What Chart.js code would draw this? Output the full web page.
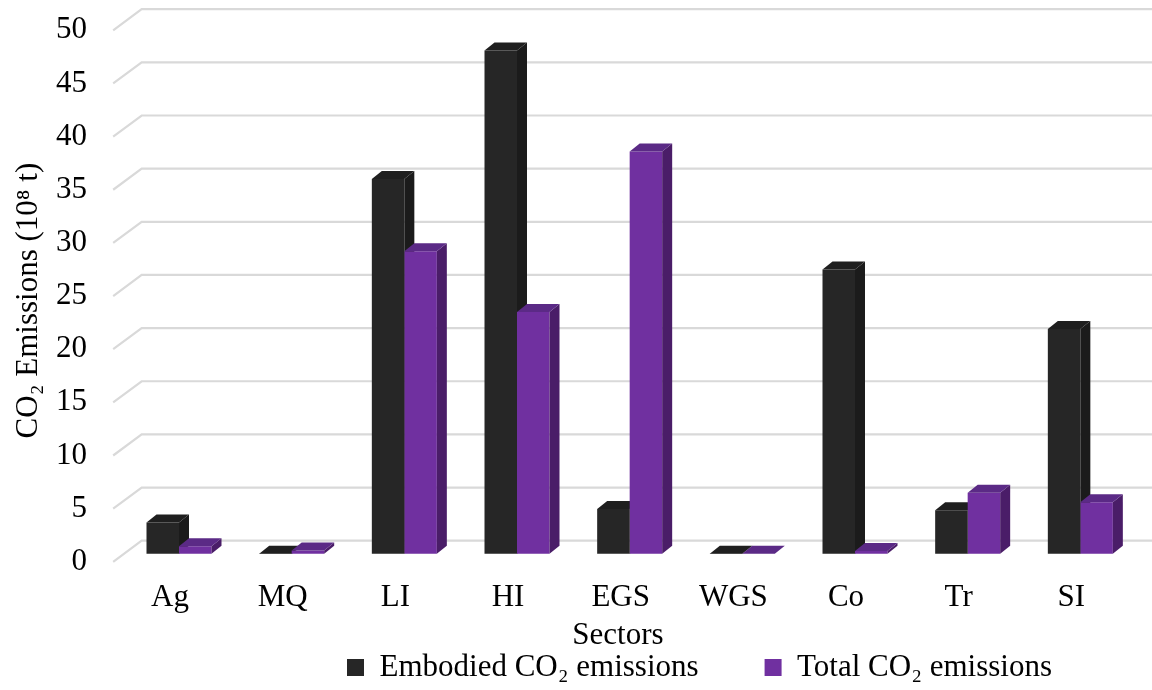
<!DOCTYPE html>
<html><head><meta charset="utf-8">
<script src="https://cdn.jsdelivr.net/npm/chart.js@4.4.1/dist/chart.umd.min.js"></script>
<style>html,body{margin:0;padding:0;background:#fff;} canvas{display:block;}</style>
</head><body>
<canvas id="c" width="1152" height="690"></canvas>
<script>
// ---- data ----
const sectors = ['Ag', 'MQ', 'LI', 'HI', 'EGS', 'WGS', 'Co', 'Tr', 'SI'];
const embodied = [3.0, 0.02, 35.3, 47.4, 4.25, 0.02, 26.8, 4.15, 21.2];
const total = [0.75, 0.35, 28.5, 22.8, 37.9, 0.05, 0.3, 5.8, 4.9];
const seriesNames = ['Embodied CO₂ emissions', 'Total CO₂ emissions'];
const yMin = 0, yMax = 50, yStep = 5;
const xTitle = 'Sectors';
const yTitle = 'CO₂ Emissions (10⁸ t)';

// ---- styles ----
const FONT = "'Liberation Serif', 'Times New Roman', serif";
const fronts = ['#262626', '#7030a0'];
const sides = ['#1b1b1b', '#4a1d68'];
const tops = ['#1f1f1f', '#5b2a86'];
const BAR_DX = 10, BAR_DY = 8;
const GRID_FRONT = {dx: -9.5, dy: 7.5}, GRID_BACK = {dx: 19, dy: -13.6};
const LEGEND_PAD = 66;
const CLEAR = 'rgba(0,0,0,0)';

function drawFaces(chart, i) {
  const ctx = chart.ctx;
  const meta = chart.getDatasetMeta(i);
  if (meta.hidden) return;
  meta.data.forEach(bar => {
    const p = bar.getProps(['x', 'y', 'base', 'width'], true);
    const l = p.x - p.width / 2, r = p.x + p.width / 2;
    const t = Math.min(p.y, p.base), b = Math.max(p.y, p.base);
    ctx.save();
    ctx.fillStyle = sides[i];
    ctx.beginPath();
    ctx.moveTo(r, t); ctx.lineTo(r + BAR_DX, t - BAR_DY); ctx.lineTo(r + BAR_DX, b - BAR_DY); ctx.lineTo(r, b);
    ctx.closePath(); ctx.fill();
    ctx.fillStyle = tops[i];
    ctx.beginPath();
    ctx.moveTo(l, t); ctx.lineTo(l + BAR_DX, t - BAR_DY); ctx.lineTo(r + BAR_DX, t - BAR_DY); ctx.lineTo(r, t);
    ctx.closePath(); ctx.fill();
    ctx.restore();
  });
}

function shiftTitle(scale, dx, dy) {
  if (!scale || scale._titleShifted) return;
  const orig = scale.drawTitle;
  scale.drawTitle = function () {
    const s = {left: this.left, right: this.right, top: this.top, bottom: this.bottom};
    this.left += dx; this.right += dx; this.top += dy; this.bottom += dy;
    orig.apply(this, arguments);
    Object.assign(this, s);
  };
  scale._titleShifted = true;
}

const threeD = {
  id: 'threeD',
  beforeLayout(chart) {
    const lg = chart.legend;
    if (lg && !lg._fitWrapped) {
      const f = lg.fit;
      lg.fit = function () { f.apply(this, arguments); this.height = 36; };
      lg._fitWrapped = true;
    }
  },
  afterLayout(chart) {
    const lg = chart.legend;
    if (lg) { lg.left = 347 - LEGEND_PAD; lg.top = 667.5 - 15.5 - LEGEND_PAD; }
    shiftTitle(chart.scales.x, -11.7, 4);
    shiftTitle(chart.scales.y, 0, 12);
  },
  beforeDatasetsDraw(chart) {
    const ctx = chart.ctx, ca = chart.chartArea, ys = chart.scales.y;
    ctx.save();
    ctx.strokeStyle = '#d9d9d9';
    ctx.lineWidth = 2.2;
    ys.ticks.forEach(tk => {
      const y = ys.getPixelForValue(tk.value);
      ctx.beginPath();
      ctx.moveTo(ca.left + GRID_FRONT.dx, y + GRID_FRONT.dy);
      ctx.lineTo(ca.left + GRID_BACK.dx, y + GRID_BACK.dy);
      ctx.lineTo(chart.width, y + GRID_BACK.dy);
      ctx.stroke();
    });
    ctx.restore();
    drawFaces(chart, 0);
  },
  afterDatasetsDraw(chart) {
    drawFaces(chart, 1);
  }
};

Chart.defaults.font.family = FONT;
Chart.defaults.font.size = 31;
Chart.defaults.color = '#000';

new Chart(document.getElementById('c'), {
  type: 'bar',
  data: {
    labels: sectors,
    datasets: [
      {label: seriesNames[0], data: embodied, backgroundColor: fronts[0], borderWidth: 0},
      {label: seriesNames[1], data: total, backgroundColor: fronts[1], borderWidth: 0}
    ]
  },
  options: {
    responsive: false,
    animation: false,
    layout: {padding: {top: 22.8, right: 15.33, left: 0, bottom: 0}},
    datasets: {bar: {categoryPercentage: 0.577, barPercentage: 1.0}},
    plugins: {
      tooltip: {enabled: false},
      legend: {
        position: 'bottom',
        align: 'start',
        labels: {boxWidth: 17, boxHeight: 17, padding: LEGEND_PAD, color: '#000', font: {size: 31, family: FONT}}
      }
    },
    scales: {
      x: {
        grid: {display: true, drawOnChartArea: false, drawTicks: true, tickLength: 24.6, color: CLEAR},
        border: {display: false},
        ticks: {padding: 0, labelOffset: -9, font: {size: 31}, color: '#000', maxRotation: 0, autoSkip: false},
        title: {display: true, text: xTitle, font: {size: 31}, color: '#000', padding: {top: 0, bottom: 3.2}},
        afterFit(s) { s.height = 690 - 554.3 - 36; }
      },
      y: {
        min: yMin, max: yMax,
        grid: {display: true, drawOnChartArea: false, drawTicks: true, tickLength: 35.7, color: CLEAR},
        border: {display: false},
        ticks: {stepSize: yStep, padding: 0, labelOffset: 7.5, font: {size: 31}, color: '#000'},
        title: {display: true, text: yTitle, font: {size: 31}, color: '#000', padding: {top: 10.4, bottom: 0}},
        afterFit(s) { s.width = 122.67; }
      }
    }
  },
  plugins: [threeD]
});
</script>
</body></html>
